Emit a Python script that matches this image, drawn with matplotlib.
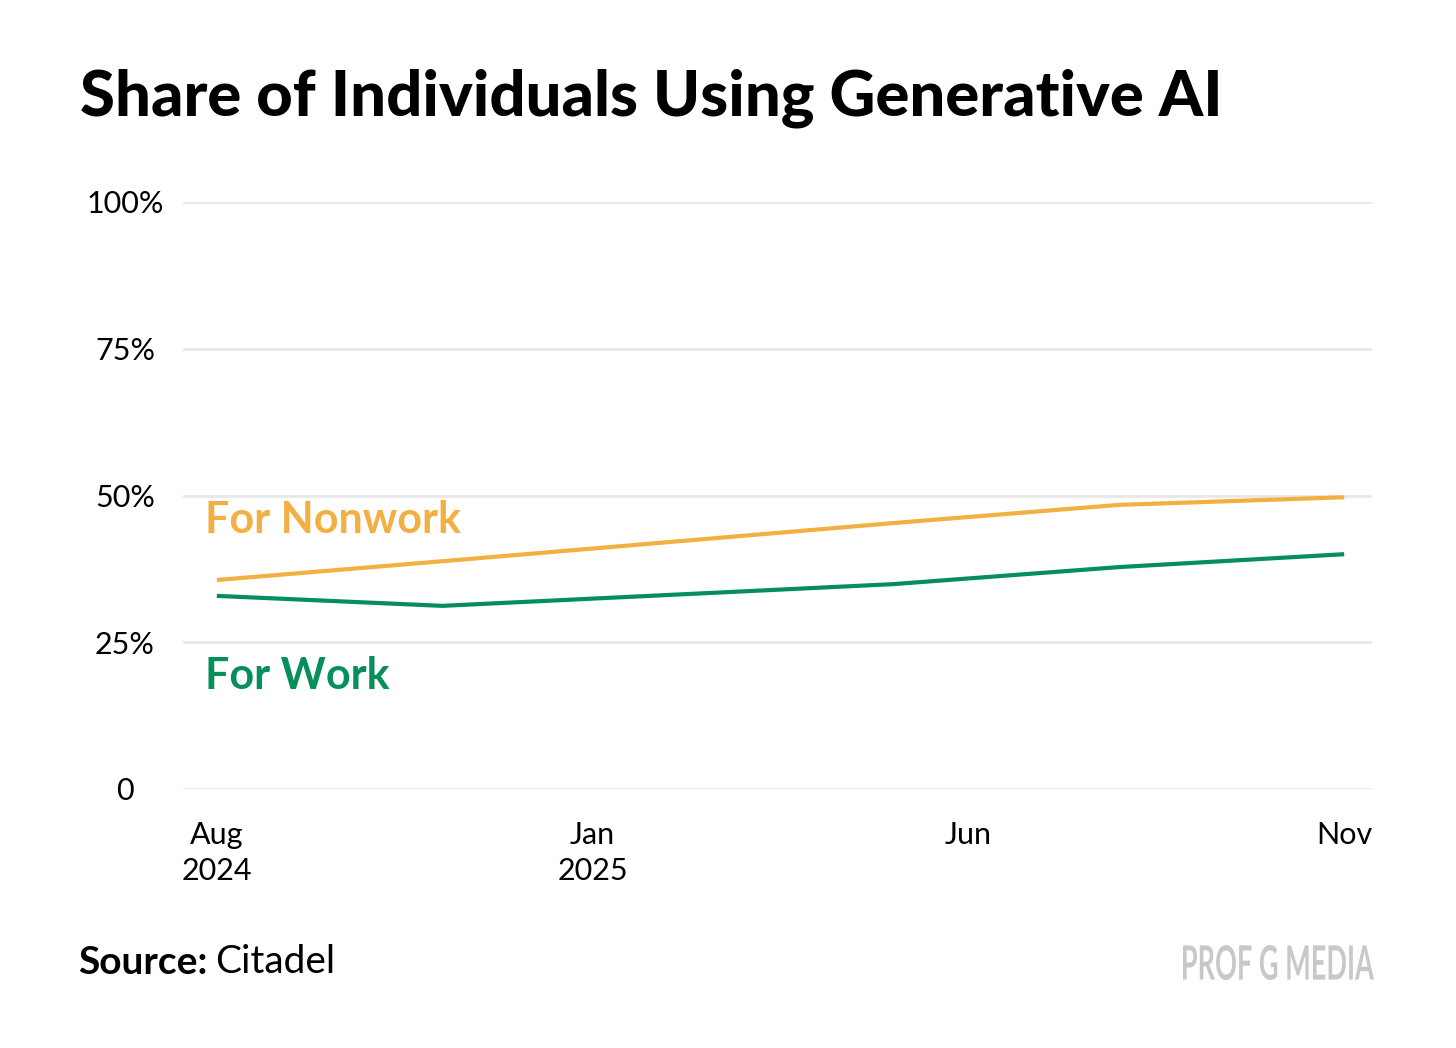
import matplotlib

matplotlib.use("Agg")

import matplotlib.pyplot as plt
from matplotlib.font_manager import FontProperties
from matplotlib.patches import PathPatch
from matplotlib.textpath import TextPath
from matplotlib.transforms import Affine2D

# months since Aug 2024
months = [0, 3, 9, 12, 15]
nonwork_share = [35.6, 38.8, 45.3, 48.4, 49.7]
work_share = [32.9, 31.2, 34.9, 37.8, 40.0]

x_ticks = [0, 5, 10, 15]
x_labels = ["Aug\n2024", "Jan\n2025", "Jun", "Nov"]
y_ticks = [0, 25, 50, 75, 100]
y_labels = ["0", "25%", "50%", "75%", "100%"]

YELLOW = "#F2B042"
GREEN = "#068F5A"
FONT = "Lato"
W, H = 1456, 1048

fig = plt.figure(figsize=(W / 100, H / 100), dpi=100)
ax = fig.add_axes([183 / W, 1 - 789 / H, 1189 / W, 587 / H])

ax.plot(months, nonwork_share, color=YELLOW, linewidth=3, solid_capstyle="butt", zorder=3)
ax.plot(months, work_share, color=GREEN, linewidth=3, solid_capstyle="butt", zorder=3)

ax.set_xlim(-0.45, 15.37)
ax.set_ylim(0, 100)
ax.set_yticks(y_ticks)
ax.set_yticklabels([])
ax.set_xticks(x_ticks)
ax.set_xticklabels(x_labels, fontsize=22, fontfamily=FONT, linespacing=1.35)
ax.tick_params(axis="x", length=0, pad=23)
ax.tick_params(axis="y", length=0)
ax.grid(True, axis="y", color="#e8e8e8", linewidth=2)
ax.set_axisbelow(True)
for spine in ax.spines.values():
    spine.set_visible(False)

# centred y tick labels, sitting a touch below their grid lines
for value, label in zip(y_ticks, y_labels):
    ax.text(-0.0488, value - 0.4, label, transform=ax.get_yaxis_transform(),
            ha="center", va="center", fontsize=22, fontfamily=FONT)

ax.text(-0.16, 45.9, "For Nonwork", color=YELLOW, fontsize=31, fontweight="bold",
        fontfamily=FONT, va="center", ha="left")
ax.text(-0.16, 19.3, "For Work", color=GREEN, fontsize=31, fontweight="bold",
        fontfamily=FONT, va="center", ha="left")

fig.text(80 / W, 1 - 98 / H, "Share of Individuals Using Generative AI",
         fontsize=45.6, fontweight="black", fontfamily=FONT, va="center", ha="left")

src = fig.text(78 / W, 1 - 962 / H, "Source:", fontsize=28, fontweight="bold",
               fontfamily=FONT, va="center", ha="left")
fig.canvas.draw()
bb = src.get_window_extent()
fig.text((bb.x1 + 8) / W, 1 - 962 / H, "Citadel", fontsize=28,
         fontfamily=FONT, va="center", ha="left")

# condensed logo text: squeeze a bold text path into the logo box
logo = TextPath((0, 0), "PROF G MEDIA", size=100,
                prop=FontProperties(family=FONT, weight="bold"))
ext = logo.get_extents()
box_x0, box_x1, box_top, box_bottom = 1183, 1374, 945, 980
sx = (box_x1 - box_x0) / ext.width
sy = (box_bottom - box_top) / ext.height
logo_tf = (Affine2D().translate(-ext.x0, -ext.y0).scale(sx, sy)
           .translate(box_x0, H - box_bottom))
fig.patches.append(PathPatch(logo_tf.transform_path(logo), facecolor="#c8c8c8",
                             edgecolor="none", transform=None, figure=fig))

fig.savefig("out.png", dpi=100, facecolor="white")
